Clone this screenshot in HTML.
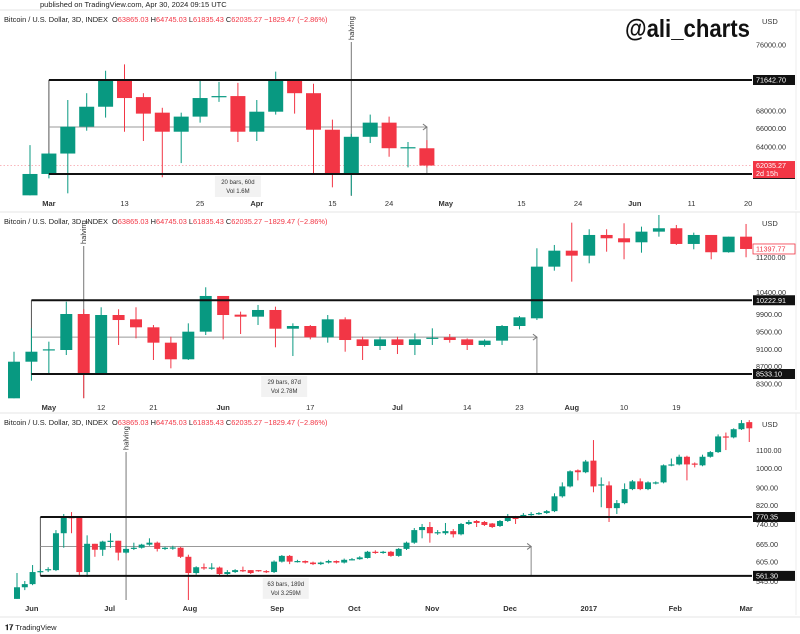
<!DOCTYPE html>
<html><head><meta charset="utf-8"><style>
html,body{margin:0;padding:0;background:#fff;}
svg{display:block;font-family:"Liberation Sans",sans-serif;}
</style></head><body>
<svg id="c" width="800" height="634" viewBox="0 0 800 634">
<text x="40" y="7" font-size="7.5" fill="#222">published on TradingView.com, Apr 30, 2024 09:15 UTC</text>
<text x="625" y="37" font-size="25" font-weight="bold" fill="#111" textLength="125" lengthAdjust="spacingAndGlyphs">@ali_charts</text>
<text x="5" y="630" font-size="7.5" fill="#222"><tspan font-weight="bold">𝟏𝟕</tspan> TradingView</text>
</svg>
<script>
// ---------- Panel 1 data (2024) ----------
const p1Open  = [59000,61160,63300,66230,68490,71530,69610,67810,65670,67360,69610,69730,65670,67920,71530,70070,65890,61160,65110,66680,63980,63865];
const p1High  = [64200,63400,69270,70070,72770,73560,70070,68370,67810,71750,71420,71300,69270,72660,71640,71190,67020,65440,67590,67360,64540,64745];
const p1Low   = [59000,60710,59200,65780,67250,65670,64650,60820,62290,66680,69050,64540,64650,67590,67700,61160,59800,59000,64430,62960,61840,61835];
const p1Close = [61160,63300,66230,68490,71530,69500,67700,65670,67360,69500,69730,65670,67920,71530,70070,65890,61160,65110,66680,63870,63980,62035];
const p1Ticks = [76000,68000,66000,64000];
const p1DateLabels = ["Mar","13","25","Apr","15","24","May","15","24","Jun","11","20"];
const p1DateIdx = [1,5,9,12,16,19,22,26,29,32,35,38];
const p1Range = [71642.70,61161.73];

// ---------- Panel 2 data (2020) ----------
const p2Open  = [7976,8815,9083,9083,9908,8548,9885,9786,9603,9251,8870,9503,10321,9893,9847,10000,9571,9633,9374,9786,9327,9175,9327,9198,9350,9374,9327,9198,9297,9633,9809,10993,11359,11245,11719,11643,11551,11795,11873,11513,11719,11323,11680];
const p2High  = [9044,9580,9274,10190,10016,10062,10016,10062,9656,9388,9694,10520,10321,9962,10115,10076,9694,9656,9885,9832,9388,9388,9388,9465,9580,9450,9350,9327,9656,9862,11414,11490,12001,11850,11850,11987,11910,12177,11948,11772,11719,11680,11971];
const p2Low   = [7976,8380,8548,8968,7976,8548,9198,9350,8854,8663,8854,9427,9327,9450,9656,9145,8945,9327,9251,9044,8854,9083,8991,8968,9198,9251,9083,9160,9198,9557,9770,10901,10649,11070,11336,11162,11313,11680,11490,11391,11162,11313,11208];
const p2Close = [8815,9044,9099,9908,8548,9885,9770,9603,9251,8870,9503,10321,9885,9847,10000,9571,9633,9374,9786,9312,9175,9327,9198,9327,9365,9312,9198,9297,9633,9832,10993,11359,11245,11719,11643,11551,11795,11873,11513,11719,11323,11680,11398];
const p2Ticks = [11200,10400,9900,9500,9100,8700,8300];
const p2DateLabels = ["May","12","21","Jun","17","Jul","14","23","Aug","10","19"];
const p2DateIdx = [2,5,8,12,17,22,26,29,32,35,38];
const p2Range = [10222.91,8533.10];

// ---------- Panel 3 data (2016) ----------
const p3Open  = [496,528,537,573,579,579,706,770,770,573,667,646,675,678,636,649,653,664,671,649,653,653,622,570,588,585,587,567,573,579,579,579,576,573,606,625,606,608,603,598,603,608,603,612,614,618,639,635,639,625,649,671,718,730,706,706,714,702,742,754,750,744,734,754,770,774,779,783,787,795,861,908,990,980,1043,913,913,808,830,895,933,895,923,928,1017,1022,1065,1027,1017,1065,1092,1188,1182,1235,1283];
const p3High  = [570,546,595,582,588,718,783,791,770,698,667,678,706,678,660,671,667,687,675,656,660,656,629,591,600,601,590,579,582,590,579,579,579,610,628,628,612,610,606,606,612,610,616,618,624,642,644,642,642,652,675,726,742,750,718,746,722,746,758,758,754,746,758,783,775,787,791,791,800,875,928,990,995,1047,1165,953,933,844,923,940,948,933,933,1022,1055,1077,1071,1033,1077,1098,1201,1213,1241,1297,1297];
const p3Low   = [496,520,534,570,573,576,653,706,564,558,622,625,653,610,632,645,650,660,640,645,646,618,493,565,580,580,564,564,570,573,567,574,570,570,603,598,603,600,595,595,600,600,600,610,612,616,632,632,622,622,645,667,687,671,700,700,690,698,738,730,734,726,730,750,742,770,775,779,783,791,855,903,938,975,880,812,750,783,825,890,890,890,918,923,1012,1017,938,1006,1012,1060,1087,1104,1176,1230,1153];
const p3Close = [528,537,573,576,582,706,770,766,573,667,646,675,678,636,649,653,664,671,649,653,654,622,570,588,585,587,567,573,579,576,570,576,573,606,625,606,608,603,598,603,608,603,612,614,620,639,635,639,625,649,671,718,730,706,710,714,702,742,750,746,738,730,754,770,762,779,783,787,795,861,908,985,980,1038,908,918,808,830,895,933,895,928,928,1017,1022,1065,1022,1022,1065,1092,1188,1182,1235,1276,1241];
const p3Ticks = [1100,1000,900,820,740,665,605,545];
const p3DateLabels = ["Jun","Jul","Aug","Sep","Oct","Nov","Dec","2017","Feb","Mar"];
const p3DateIdx = [1.9,11.9,22.2,33.4,43.3,53.3,63.3,73.4,84.5,93.6];
const p3Range = [770.35,561.30];

const NS = "http://www.w3.org/2000/svg";
const svg = document.getElementById("c");
const GREEN = "#089981", RED = "#f23645";
function mk(tag, attrs, parent){
  const e = document.createElementNS(NS, tag);
  for (const k in attrs) e.setAttribute(k, attrs[k]);
  (parent || svg).appendChild(e);
  return e;
}
function fmt(v){ return v.toFixed(2); }

function drawPanel(cfg){
  const g = mk("g", {});
  
  
  const X = i => cfg.x0 + i * cfg.sp;
  const Y = cfg.y;
  const sep = mk("line", {x1:0, x2:800, y1:cfg.top, y2:cfg.top, stroke:"#e6e6e6", "stroke-width":1}, g);
  
  
  const axb = mk("line", {x1:796, x2:796, y1:cfg.top, y2:cfg.bottom, stroke:"#ececec", "stroke-width":1}, g);
  
  
  const hd = mk("text", {x:4, y:cfg.top+12, "font-size":7.4, fill:"#222"}, g);
  
  
  hd.innerHTML = 'Bitcoin / U.S. Dollar, 3D, INDEX &#160;O<tspan fill="#f23645">63865.03</tspan> H<tspan fill="#f23645">64745.03</tspan> L<tspan fill="#f23645">61835.43</tspan> C<tspan fill="#f23645">62035.27</tspan> <tspan fill="#f23645">−1829.47 (−2.86%)</tspan>';
  const usd = mk("text", {x:762, y:cfg.top+14, "font-size":7.5, fill:"#333"}, g);
  
  
  usd.textContent = "USD";
  cfg.ticks.forEach(t => {
    const tt = mk("text", {x:756, y:Y(t)+2.5, "font-size":7.2, fill:"#333"}, g);
    
    
    tt.textContent = fmt(t);
  });
  cfg.dates.forEach((d, k) => {
    const dt = mk("text", {x:X(cfg.dateIdx[k]), y:cfg.dateY, "font-size":7.5, fill:"#333", "text-anchor":"middle", "font-weight":(/^[A-Z]|2017/.test(d) ? "bold" : "normal")}, g);
    
    
    dt.textContent = d;
  });
  const [hi, lo] = cfg.range;
  const xl = X(cfg.boxL), xr = X(cfg.boxR), yt = Y(hi), yb = Y(lo);
  const lv = mk("line", {x1:xl, x2:xl, y1:yt, y2:yb, stroke:"#555", "stroke-width":1}, g);
  
  
  const rv = mk("line", {x1:xr, x2:xr, y1:(yt+yb)/2, y2:yb, stroke:"#888", "stroke-width":1}, g);
  
  
  const mid = mk("line", {x1:xl, x2:xr, y1:(yt+yb)/2, y2:(yt+yb)/2, stroke:"#999", "stroke-width":1}, g);
  
  
  const ah = mk("path", {d:`M${xr-4},${(yt+yb)/2-3} L${xr},${(yt+yb)/2} L${xr-4},${(yt+yb)/2+3}`, fill:"none", stroke:"#777", "stroke-width":1}, g);
  
  
  const hx = X(cfg.halving);
  const hl = mk("line", {x1:hx, x2:hx, y1:cfg.halvY[0], y2:cfg.halvY[1], stroke:"#777", "stroke-width":1}, g);
  
  
  const ht = mk("text", {x:hx+2.5, y:cfg.halvY[0]-2, "font-size":7.5, fill:"#333", transform:`rotate(-90 ${hx+2.5} ${cfg.halvY[0]-2})`}, g);
  
  
  ht.textContent = "halving";
  if (cfg.lastLine) {
    const pl = mk("line", {x1:0, x2:752, y1:Y(cfg.lastClose), y2:Y(cfg.lastClose), stroke:"#f7a0a8", "stroke-width":0.8, "stroke-dasharray":"1.5,2"}, g);
    
    
  }
  for (let i = 0; i < cfg.o.length; i++) {
    const up = cfg.c[i] >= cfg.o[i];
    const col = up ? GREEN : RED;
    const cx = X(i);
    const wick = mk("line", {x1:cx, x2:cx, y1:Y(cfg.h[i]), y2:Y(cfg.l[i]), stroke:col, "stroke-width":1}, g);
    
    
    const yTop = Y(Math.max(cfg.o[i], cfg.c[i])), yBot = Y(Math.min(cfg.o[i], cfg.c[i]));
    const body = mk("rect", {x:cx - cfg.w/2, y:yTop, width:cfg.w, height:Math.max(1.2, yBot - yTop), fill:col}, g);
    
    
  }
  const tl = mk("line", {x1:xl, x2:752, y1:yt, y2:yt, stroke:"#111", "stroke-width":2}, g);
  
  
  const bl = mk("line", {x1:xl, x2:752, y1:yb, y2:yb, stroke:"#111", "stroke-width":2}, g);
  
  
  const sx = (xl + xr) / 2;
  const sb = mk("rect", {x:sx-23, y:yb+2, width:46, height:21, fill:"#f2f2f2"}, g);
  
  
  const s1 = mk("text", {x:sx, y:yb+10, "font-size":6, fill:"#333", "text-anchor":"middle"}, g);
  
  
  s1.textContent = cfg.stats[0];
  const s2 = mk("text", {x:sx, y:yb+19, "font-size":6, fill:"#333", "text-anchor":"middle"}, g);
  
  
  s2.textContent = cfg.stats[1];
  [hi, lo].forEach(v => {
    const r = mk("rect", {x:753, y:Y(v)-5, width:42, height:10, fill:"#111"}, g);
    
    
    const t = mk("text", {x:756, y:Y(v)+2.6, "font-size":7.2, fill:"#fff"}, g);
    
    
    t.textContent = fmt(v);
  });
  if (cfg.lastBox) cfg.lastBox(g, Y);
}

drawPanel({name:"panel-2024", top:10, bottom:210, x0:30, sp:18.9, w:15,
  y: p => 111 - 594 * Math.log(p / 68000),
  o:p1Open, h:p1High, l:p1Low, c:p1Close, ticks:p1Ticks, dates:p1DateLabels, dateIdx:p1DateIdx, dateY:206,
  range:p1Range, boxL:1, boxR:21, halving:17, halvY:[42,196], stats:["20 bars, 60d","Vol 1.6M"],
  lastLine:true, lastClose:p1Close[p1Close.length-1],
  lastBox:(g, Y) => {
    const y0 = Y(p1Close[p1Close.length-1]);
    const r = mk("rect", {x:753, y:y0-4.5, width:42, height:17, fill:"#f23645"}, g);
    
    
    const t = mk("text", {x:756, y:y0+2.5, "font-size":7.2, fill:"#fff"}, g);
    
    
    t.textContent = fmt(62035.27);
    const t2 = mk("text", {x:756, y:y0+10.5, "font-size":7.2, fill:"#fff"}, g);
    
    
    t2.textContent = "2d 15h";
  }});

drawPanel({name:"panel-2020", top:212, bottom:410, x0:14, sp:17.43, w:12,
  y: p => 374 - (p - 8533.1) * 0.04364,
  o:p2Open, h:p2High, l:p2Low, c:p2Close, ticks:p2Ticks, dates:p2DateLabels, dateIdx:p2DateIdx, dateY:410,
  range:p2Range, boxL:1, boxR:30, halving:4, halvY:[246,398], stats:["29 bars, 87d","Vol 2.78M"],
  lastBox:(g, Y) => {
    const y0 = Y(p2Close[p2Close.length-1]);
    const r = mk("rect", {x:753, y:y0-5, width:42, height:10, fill:"#fff", stroke:"#f23645", "stroke-width":0.8}, g);
    
    
    const t = mk("text", {x:756, y:y0+2.6, "font-size":7.2, fill:"#f23645"}, g);
    
    
    t.textContent = fmt(11397.77);
  }});

drawPanel({name:"panel-2016", top:413, bottom:615, x0:17, sp:7.79, w:6,
  y: p => 517 - 186 * Math.log(p / 770.35),
  o:p3Open, h:p3High, l:p3Low, c:p3Close, ticks:p3Ticks, dates:p3DateLabels, dateIdx:p3DateIdx, dateY:611,
  range:p3Range, boxL:3, boxR:66, halving:14, halvY:[452,600], stats:["63 bars, 189d","Vol 3.259M"]});

const bsep = mk("line", {x1:0, x2:800, y1:617, y2:617, stroke:"#e6e6e6", "stroke-width":1});


</script>
</body></html>
